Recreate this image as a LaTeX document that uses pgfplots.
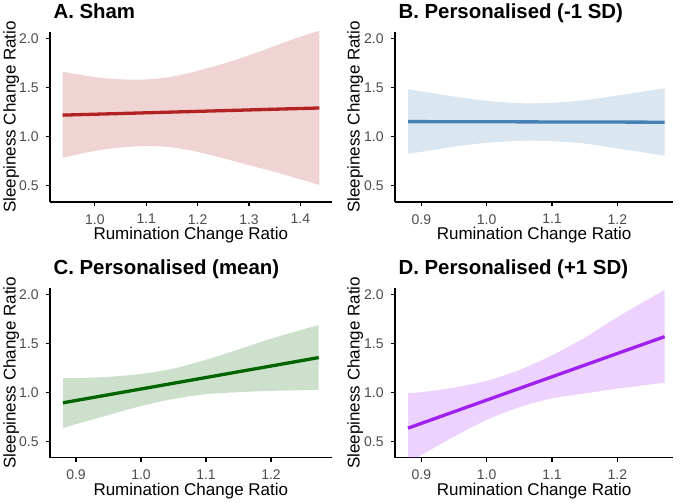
\documentclass[border=0pt]{standalone}
\usepackage{fontspec}
\setmainfont{Liberation Sans}
\usepackage{pgfplots}
\pgfplotsset{compat=1.18}
\usepgfplotslibrary{fillbetween}
\definecolor{firebrick}{RGB}{178,34,34}
\definecolor{steelblue}{RGB}{70,130,180}
\definecolor{dkgreen}{RGB}{0,100,0}
\definecolor{rpurple}{RGB}{160,32,240}
\definecolor{gray30}{RGB}{77,77,77}
\pgfplotsset{
 panel/.style={
  scale only axis,
  axis lines=left,
  axis line style={-, line width=1.1pt, black},
  tick align=outside,
  major tick length=4.3pt,
  tick style={black, line width=1.1pt},
  minor tick num=0,
  ymin=0.334, ymax=2.068,
  ytick={0.5,1.0,1.5,2.0},
  yticklabels={0.5,1.0,1.5,2.0},
  /pgf/number format/assume math mode=true,
  ticklabel style={font=\fontsize{14}{16}\selectfont, text=gray30},
  yticklabel style={xshift=-3.5pt},
  xticklabel style={yshift=-4.5pt},
  xlabel={Rumination Change Ratio},
  ylabel={Sleepiness Change Ratio},
  label style={font=\fontsize{17}{20}\selectfont},
  xlabel style={at={(axis description cs:0.5,0)}, anchor=base, yshift=-38pt},
  every axis title shift=0pt,
  title style={at={(axis description cs:0,1)}, anchor=base west, yshift=13pt, font=\fontsize{20.4}{24}\selectfont\bfseries},
  clip=true,
 },
 band/.style={draw=none, smooth, tension=0.5},
}
\begin{document}
\begin{tikzpicture}
\path (0,0) rectangle (680pt,503pt);
% Panel A
\begin{axis}[panel, at={(50pt,301pt)}, anchor=south west, width=281.7pt, height=170pt,
  xmin=0.9126, xmax=1.461, xtick={1.0,1.1,1.2,1.3,1.4}, xticklabels={1.0,1.1,1.2,1.3,1.4},
  title={A. Sham}, ylabel style={at={(axis description cs:-0.1223,0.5)}, anchor=base}]
\addplot[band, name path=au] coordinates {(0.937,1.662) (1.0,1.608) (1.05,1.585) (1.1,1.584) (1.15,1.612) (1.2,1.672) (1.25,1.745) (1.3,1.83) (1.35,1.925) (1.4,2.02) (1.437,2.082)};
\addplot[band, name path=al] coordinates {(0.937,0.785) (1.0,0.855) (1.05,0.89) (1.1,0.905) (1.15,0.892) (1.2,0.845) (1.25,0.78) (1.3,0.71) (1.35,0.64) (1.4,0.565) (1.437,0.509)};
\addplot[fill=firebrick, fill opacity=0.2, draw=none] fill between[of=au and al];
\addplot[firebrick, line width=3.3pt] coordinates {(0.937,1.22) (1.437,1.293)};
\end{axis}
% Panel B
\begin{axis}[panel, at={(395pt,301pt)}, anchor=south west, width=278.3pt, height=170pt,
  xmin=0.8597, xmax=1.2857, xtick={0.9,1.0,1.1,1.2}, xticklabels={0.9,1.0,1.1,1.2},
  title={B. Personalised (-1 SD)}, ylabel style={at={(axis description cs:-0.1268,0.5)}, anchor=base}]
\addplot[band, name path=bu] coordinates {(0.8796,1.485) (0.9,1.462) (0.95,1.41) (1.0,1.366) (1.05,1.342) (1.1,1.345) (1.15,1.372) (1.2,1.42) (1.25,1.47) (1.2724,1.495)};
\addplot[band, name path=bl] coordinates {(0.8796,0.826) (0.9,0.846) (0.95,0.898) (1.0,0.938) (1.05,0.958) (1.1,0.955) (1.15,0.93) (1.2,0.88) (1.25,0.83) (1.2724,0.805)};
\addplot[fill=steelblue, fill opacity=0.2, draw=none] fill between[of=bu and bl];
\addplot[steelblue, line width=3.3pt] coordinates {(0.8796,1.154) (1.2724,1.148)};
\end{axis}
% Panel C
\begin{axis}[panel, at={(50pt,45.3pt)}, anchor=south west, width=281.7pt, height=169.7pt,
  xmin=0.86, xmax=1.2933, xtick={0.9,1.0,1.1,1.2}, xticklabels={0.9,1.0,1.1,1.2},
  title={C. Personalised (mean)}, ylabel style={at={(axis description cs:-0.1223,0.5)}, anchor=base}]
\addplot[band, name path=cu] coordinates {(0.88,1.146) (0.9,1.147) (0.95,1.16) (1.0,1.19) (1.05,1.245) (1.1,1.335) (1.15,1.44) (1.2,1.55) (1.2733,1.69)};
\addplot[band, name path=cl] coordinates {(0.88,0.633) (0.9,0.677) (0.95,0.77) (1.0,0.862) (1.05,0.935) (1.1,0.983) (1.15,1.003) (1.2,1.017) (1.2733,1.027)};
\addplot[fill=dkgreen, fill opacity=0.2, draw=none] fill between[of=cu and cl];
\addplot[dkgreen, line width=3.3pt] coordinates {(0.88,0.895) (1.2733,1.357)};
\end{axis}
% Panel D
\begin{axis}[panel, at={(395pt,45.3pt)}, anchor=south west, width=278.3pt, height=169.7pt,
  xmin=0.8597, xmax=1.2857, xtick={0.9,1.0,1.1,1.2}, xticklabels={0.9,1.0,1.1,1.2},
  title={D. Personalised (+1 SD)}, ylabel style={at={(axis description cs:-0.1268,0.5)}, anchor=base}]
\addplot[band, name path=du] coordinates {(0.8796,0.993) (0.9,1.003) (0.95,1.05) (1.0,1.12) (1.05,1.23) (1.1,1.38) (1.15,1.56) (1.2,1.77) (1.2724,2.048)};
\addplot[band, name path=dl] coordinates {(0.8796,0.28) (0.9,0.36) (0.95,0.55) (1.0,0.72) (1.05,0.85) (1.1,0.94) (1.15,0.99) (1.2,1.04) (1.2724,1.10)};
\addplot[fill=rpurple, fill opacity=0.2, draw=none] fill between[of=du and dl];
\addplot[rpurple, line width=3.3pt] coordinates {(0.8796,0.636) (1.2724,1.571)};
\end{axis}
\pgfresetboundingbox
\useasboundingbox (0,0) rectangle (680pt,503pt);
\end{tikzpicture}
\end{document}
